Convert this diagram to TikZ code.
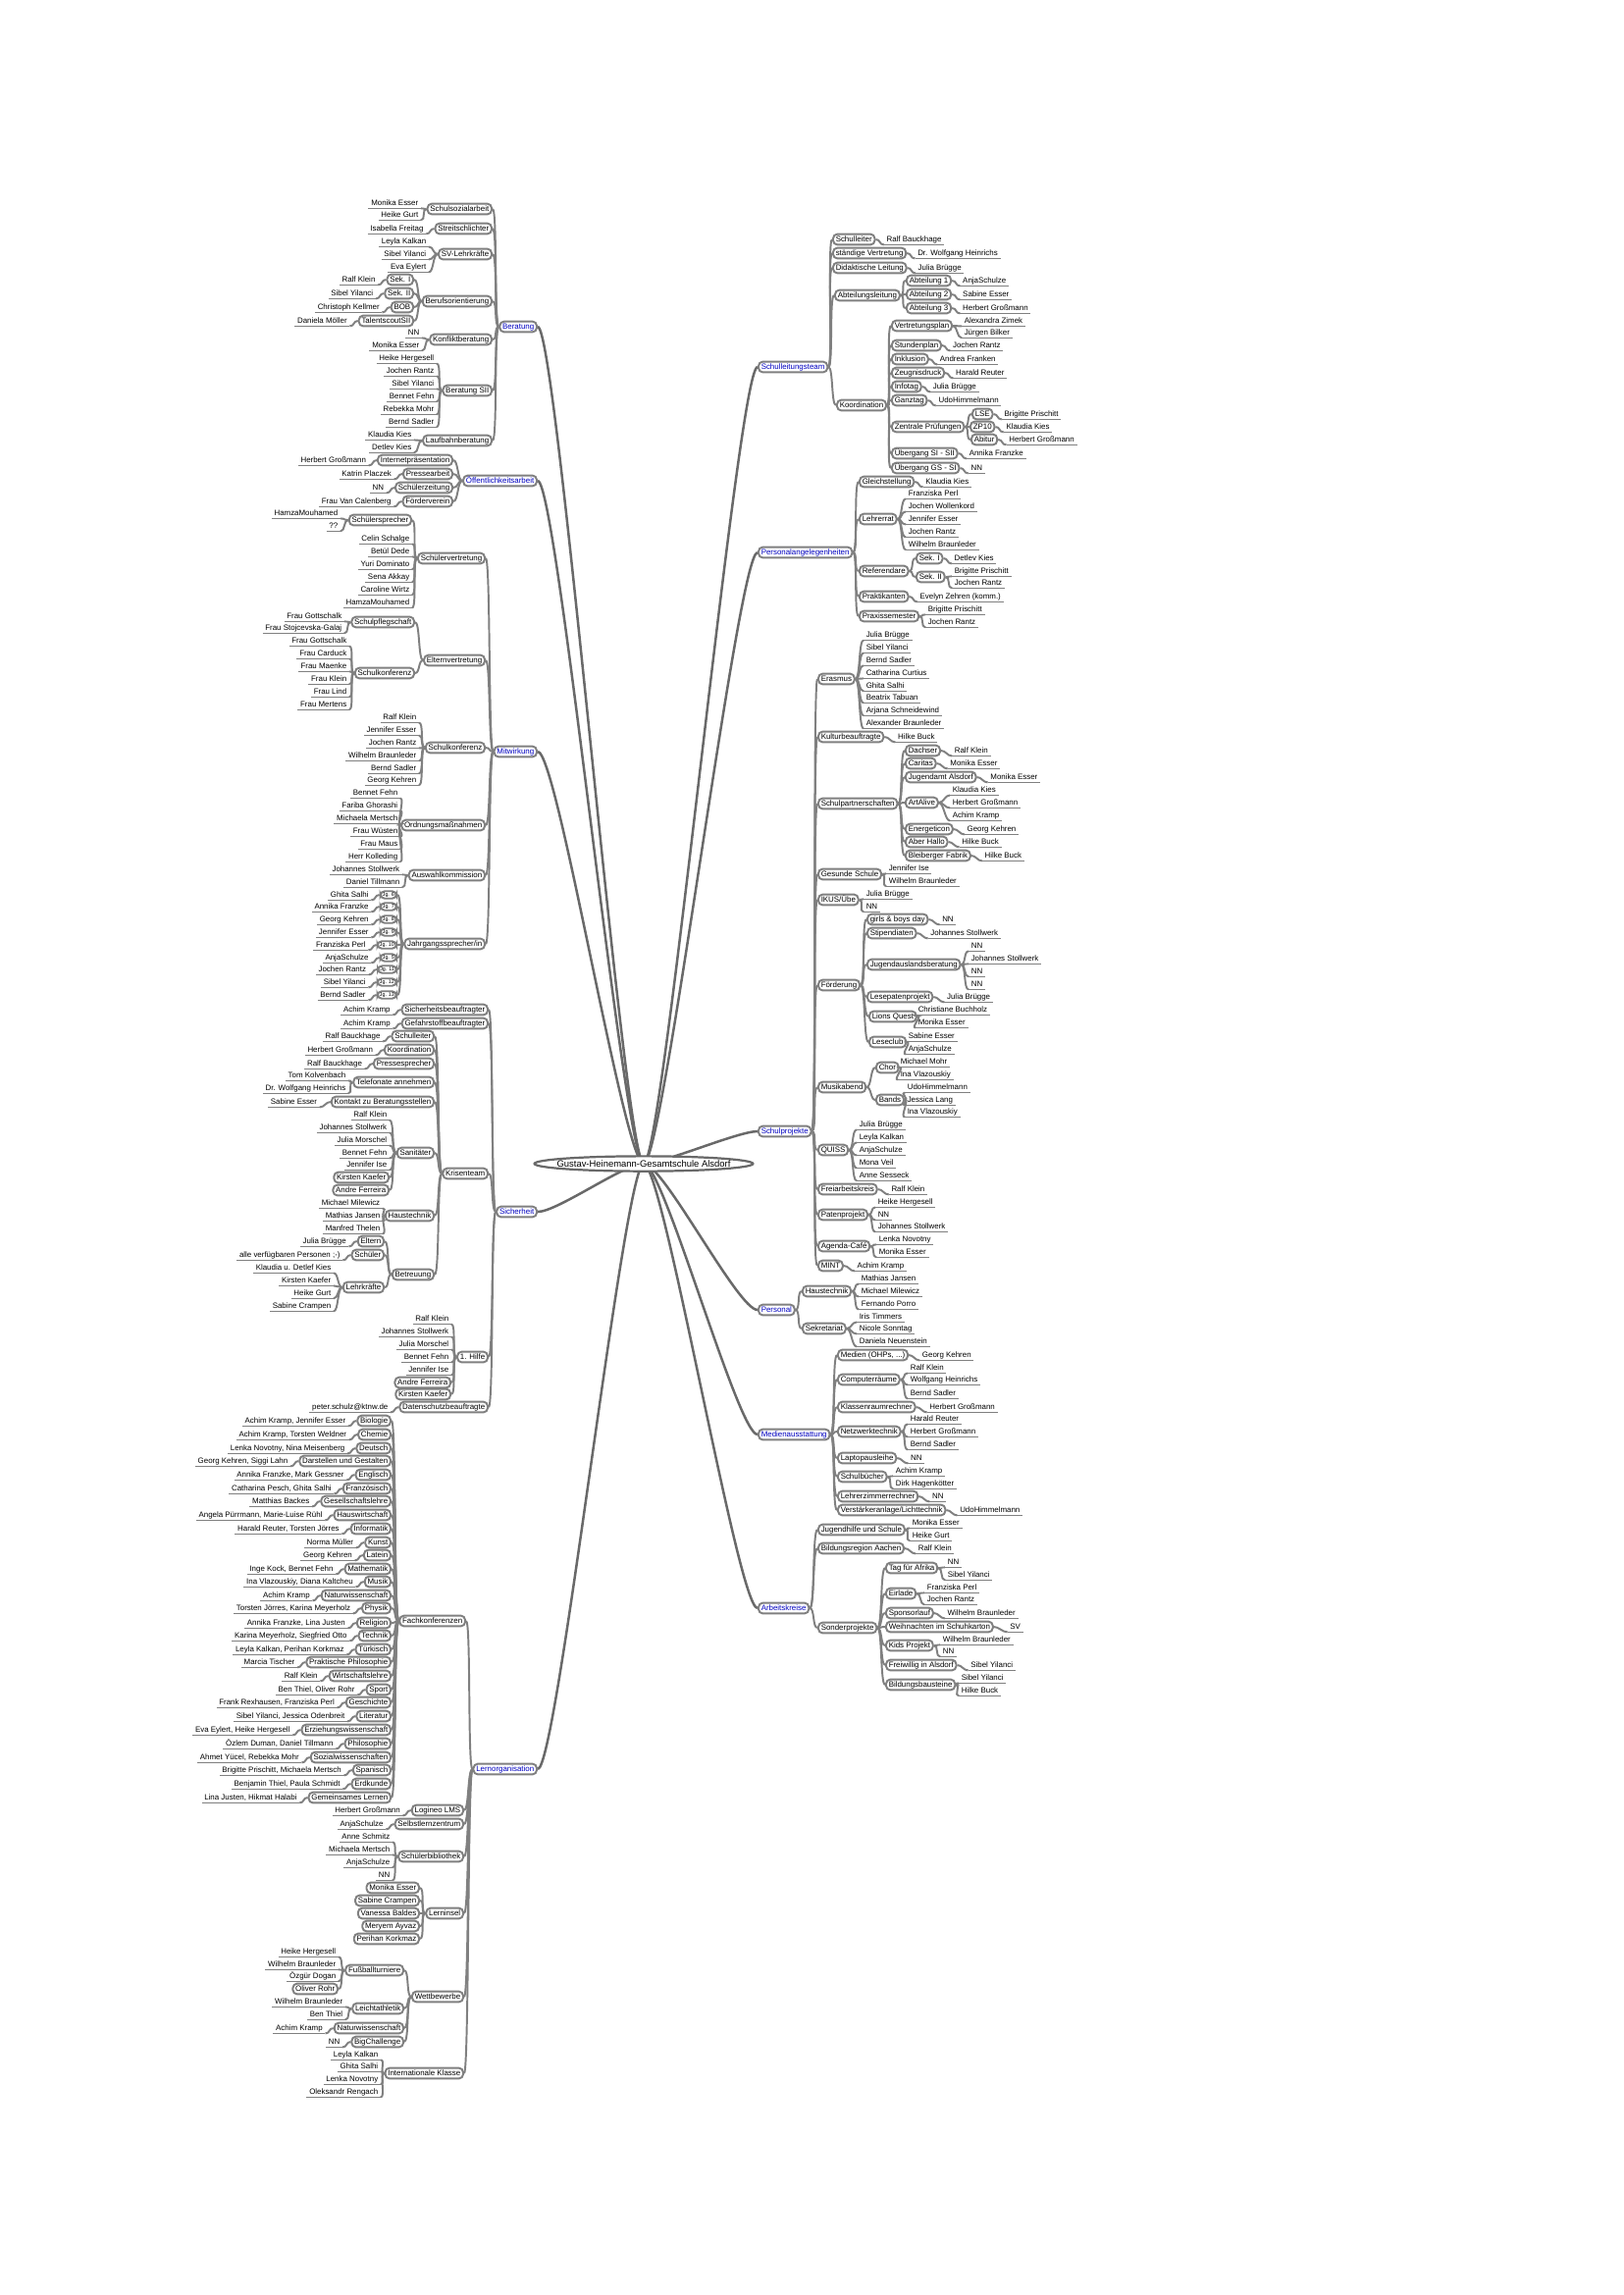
\documentclass[tikz,border=0pt]{standalone}
\usepackage{fontspec}
\setmainfont{Liberation Sans}
\usetikzlibrary{positioning,shapes.geometric,backgrounds}

\definecolor{linegray}{RGB}{128,128,128}
\definecolor{trunkgray}{RGB}{105,105,105}
\definecolor{mainblue}{RGB}{0,0,192}

\tikzset{
  txt/.style={font=\fontsize{2.85}{3.4}\selectfont, text height=2.1pt, text depth=0.6pt},
  leaf/.style={txt, inner xsep=0.8pt, inner ysep=0.4pt,
    append after command={(\tikzlastnode.south west) edge[draw=linegray, line width=0.6pt, to path={-- (\tikztotarget)}] (\tikzlastnode.south east)}},
  box/.style={txt, draw=linegray, line width=0.7pt, rounded corners=1.6pt, fill=white, inner xsep=1pt, inner ysep=0.6pt},
  jgbox/.style={box, font=\fontsize{1.9}{2.2}\selectfont, text height=1.4pt, text depth=0.3pt, inner ysep=0.5pt, inner xsep=0.8pt},
  mainbox/.style={box, text=mainblue},
  rootnode/.style={ellipse, draw=trunkgray, line width=0.8pt, fill=white, font=\fontsize{3.4}{4.1}\selectfont, inner xsep=-3.5pt, inner ysep=0.7pt},
  toleft/.style={to path={.. controls +(-5,0) and +(5,0) .. (\tikztotarget)}},
  toright/.style={to path={.. controls +(5,0) and +(-5,0) .. (\tikztotarget)}},
  mainleft/.style={draw=trunkgray, line width=0.9pt, to path={.. controls +(-20,0) and +(20,0) .. (\tikztotarget)}},
  mainright/.style={draw=trunkgray, line width=0.9pt, to path={.. controls +(20,0) and +(-20,0) .. (\tikztotarget)}}
}

\begin{document}
\begin{tikzpicture}[x=0.36pt, y=-0.36pt]
  \useasboundingbox (0,0) rectangle (1654,2339);

  \node[rootnode] (root) at (656,1186) {Gustav-Heinemann-Gesamtschule Alsdorf};

  \begin{scope}[every node/.append style={anchor=east}, every edge/.style={draw=linegray, line width=0.7pt, toleft}]

    \node[mainbox] (ber) at (548,333) {Beratung};
    \node[box] (ber1) at (502,213) {Schulsozialarbeit};
    \node[leaf] (ber1a) at (429,207) {Monika Esser};
    \node[leaf] (ber1b) at (429,219) {Heike Gurt};
    \node[box] (ber2) at (502,233) {Streitschlichter};
    \node[leaf, left=3pt of ber2] (ber2a) {Isabella Freitag};
    \node[box] (ber3) at (502,259) {SV-Lehrkräfte};
    \node[leaf] (ber3a) at (437,246) {Leyla Kalkan};
    \node[leaf] (ber3b) at (437,259) {Sibel Yilanci};
    \node[leaf] (ber3c) at (437,272) {Eva Eylert};
    \node[box] (ber4) at (502,307) {Berufsorientierung};
    \node[box] (ber4a) at (422,285) {Sek. I};
    \node[box] (ber4b) at (422,299) {Sek. II};
    \node[box] (ber4c) at (422,313) {BOB};
    \node[box] (ber4d) at (422,327) {TalentscoutSII};
    \node[leaf, left=3pt of ber4a] (ber4a1) {Ralf Klein};
    \node[leaf, left=3pt of ber4b] (ber4b1) {Sibel Yilanci};
    \node[leaf, left=3pt of ber4c] (ber4c1) {Christoph Kellmer};
    \node[leaf, left=3pt of ber4d] (ber4d1) {Daniela Möller};
    \node[box] (ber5) at (502,346) {Konfliktberatung};
    \node[leaf] (ber5a) at (430,339) {NN};
    \node[leaf] (ber5b) at (430,352) {Monika Esser};
    \node[box] (ber6) at (502,398) {Beratung SII};
    \node[leaf] (ber6a) at (445,365) {Heike Hergesell};
    \node[leaf] (ber6b) at (445,378) {Jochen Rantz};
    \node[leaf] (ber6c) at (445,391) {Sibel Yilanci};
    \node[leaf] (ber6d) at (445,404) {Bennet Fehn};
    \node[leaf] (ber6e) at (445,417) {Rebekka Mohr};
    \node[leaf] (ber6f) at (445,430) {Bernd Sadler};
    \node[box] (ber7) at (502,449) {Laufbahnberatung};
    \node[leaf] (ber7a) at (422,443) {Klaudia Kies};
    \node[leaf] (ber7b) at (422,456) {Detlev Kies};

    \path (ber.west) edge (ber1.east) edge (ber2.east) edge (ber3.east) edge (ber4.east)
      edge (ber5.east) edge (ber6.east) edge (ber7.east);
    \path (ber1.west) edge (ber1a.south east) edge (ber1b.south east);
    \path (ber2.west) edge (ber2a.south east);
    \path (ber3.west) edge (ber3a.south east) edge (ber3b.south east) edge (ber3c.south east);
    \path (ber4.west) edge (ber4a.east) edge (ber4b.east) edge (ber4c.east) edge (ber4d.east);
    \path (ber4a.west) edge (ber4a1.south east);
    \path (ber4b.west) edge (ber4b1.south east);
    \path (ber4c.west) edge (ber4c1.south east);
    \path (ber4d.west) edge (ber4d1.south east);
    \path (ber5.west) edge (ber5a.south east) edge (ber5b.south east);
    \path (ber6.west) edge (ber6a.south east) edge (ber6b.south east) edge (ber6c.south east)
      edge (ber6d.south east) edge (ber6e.south east) edge (ber6f.south east);
    \path (ber7.west) edge (ber7a.south east) edge (ber7b.south east);

    \node[mainbox] (oef) at (548,490) {Öffentlichkeitsarbeit};
    \node[box] (oef1) at (462,469) {Internetpräsentation};
    \node[box] (oef2) at (462,483) {Pressearbeit};
    \node[box] (oef3) at (462,497) {Schülerzeitung};
    \node[box] (oef4) at (462,511) {Förderverein};
    \node[leaf, left=3pt of oef1] (oef1a) {Herbert Großmann};
    \node[leaf, left=3pt of oef2] (oef2a) {Katrin Placzek};
    \node[leaf, left=3pt of oef3] (oef3a) {NN};
    \node[leaf, left=3pt of oef4] (oef4a) {Frau Van Calenberg};

    \path (oef.west) edge (oef1.east) edge (oef2.east) edge (oef3.east) edge (oef4.east);
    \path (oef1.west) edge (oef1a.south east);
    \path (oef2.west) edge (oef2a.south east);
    \path (oef3.west) edge (oef3a.south east);
    \path (oef4.west) edge (oef4a.south east);

    \node[mainbox] (mit) at (548,766) {Mitwirkung};
    \node[box] (mit1) at (495,569) {Schülervertretung};
    \node[box] (mit1a) at (420,530) {Schülersprecher};
    \node[leaf] (mit1a1) at (347,523) {HamzaMouhamed};
    \node[leaf] (mit1a2) at (347,536) {??};
    \node[leaf] (mit1b) at (420,549) {Celin Schalge};
    \node[leaf] (mit1c) at (420,562) {Betül Dede};
    \node[leaf] (mit1d) at (420,575) {Yuri Dominato};
    \node[leaf] (mit1e) at (420,588) {Sena Akkay};
    \node[leaf] (mit1f) at (420,601) {Caroline Wirtz};
    \node[leaf] (mit1g) at (420,614) {HamzaMouhamed};
    \node[box] (mit2) at (495,673) {Elternvertretung};
    \node[box] (mit2a) at (423,634) {Schulpflegschaft};
    \node[leaf] (mit2a1) at (351,628) {Frau Gottschalk};
    \node[leaf] (mit2a2) at (351,640) {Frau Stojcevska-Galaj};
    \node[box] (mit2b) at (423,686) {Schulkonferenz};
    \node[leaf] (mit2b1) at (356,653) {Frau Gottschalk};
    \node[leaf] (mit2b2) at (356,666) {Frau Carduck};
    \node[leaf] (mit2b3) at (356,679) {Frau Maenke};
    \node[leaf] (mit2b4) at (356,692) {Frau Klein};
    \node[leaf] (mit2b5) at (356,705) {Frau Lind};
    \node[leaf] (mit2b6) at (356,718) {Frau Mertens};
    \node[box] (mit3) at (495,762) {Schulkonferenz};
    \node[leaf] (mit3a) at (427,731) {Ralf Klein};
    \node[leaf] (mit3b) at (427,744) {Jennifer Esser};
    \node[leaf] (mit3c) at (427,757) {Jochen Rantz};
    \node[leaf] (mit3d) at (427,770) {Wilhelm Braunleder};
    \node[leaf] (mit3e) at (427,783) {Bernd Sadler};
    \node[leaf] (mit3f) at (427,795) {Georg Kehren};
    \node[box] (mit4) at (495,841) {Ordnungsmaßnahmen};
    \node[leaf] (mit4a) at (408,808) {Bennet Fehn};
    \node[leaf] (mit4b) at (408,821) {Fariba Ghorashi};
    \node[leaf] (mit4c) at (408,834) {Michaela Mertsch};
    \node[leaf] (mit4d) at (408,847) {Frau Wüsten};
    \node[leaf] (mit4e) at (408,860) {Frau Maus};
    \node[leaf] (mit4f) at (408,873) {Herr Kolleding};
    \node[box] (mit5) at (495,892) {Auswahlkommission};
    \node[leaf] (mit5a) at (410,886) {Johannes Stollwerk};
    \node[leaf] (mit5b) at (410,899) {Daniel Tillmann};
    \node[box] (mit6) at (495,962) {Jahrgangssprecher/in};
    \node[jgbox] (jg6) at (405,912) {Jg. 6};
    \node[jgbox] (jg7) at (405,924) {Jg. 7};
    \node[jgbox] (jg8) at (405,937) {Jg. 8};
    \node[jgbox] (jg9) at (405,950) {Jg. 9};
    \node[jgbox] (jg10) at (405,963) {Jg. 10};
    \node[jgbox] (jg5) at (405,976) {Jg. 5};
    \node[jgbox] (jg11) at (405,988) {Jg. 11};
    \node[jgbox] (jg12) at (405,1001) {Jg. 12};
    \node[jgbox] (jg13) at (405,1014) {Jg. 13};
    \node[leaf, left=3pt of jg6] (jg6a) {Ghita Salhi};
    \node[leaf, left=3pt of jg7] (jg7a) {Annika Franzke};
    \node[leaf, left=3pt of jg8] (jg8a) {Georg Kehren};
    \node[leaf, left=3pt of jg9] (jg9a) {Jennifer Esser};
    \node[leaf, left=3pt of jg10] (jg10a) {Franziska Perl};
    \node[leaf, left=3pt of jg5] (jg5a) {AnjaSchulze};
    \node[leaf, left=3pt of jg11] (jg11a) {Jochen Rantz};
    \node[leaf, left=3pt of jg12] (jg12a) {Sibel Yilanci};
    \node[leaf, left=3pt of jg13] (jg13a) {Bernd Sadler};

    \path (mit.west) edge (mit1.east) edge (mit2.east) edge (mit3.east) edge (mit4.east)
      edge (mit5.east) edge (mit6.east);
    \path (mit1.west) edge (mit1a.east) edge (mit1b.south east) edge (mit1c.south east)
      edge (mit1d.south east) edge (mit1e.south east) edge (mit1f.south east) edge (mit1g.south east);
    \path (mit1a.west) edge (mit1a1.south east) edge (mit1a2.south east);
    \path (mit2.west) edge (mit2a.east) edge (mit2b.east);
    \path (mit2a.west) edge (mit2a1.south east) edge (mit2a2.south east);
    \path (mit2b.west) edge (mit2b1.south east) edge (mit2b2.south east) edge (mit2b3.south east)
      edge (mit2b4.south east) edge (mit2b5.south east) edge (mit2b6.south east);
    \path (mit3.west) edge (mit3a.south east) edge (mit3b.south east) edge (mit3c.south east)
      edge (mit3d.south east) edge (mit3e.south east) edge (mit3f.south east);
    \path (mit4.west) edge (mit4a.south east) edge (mit4b.south east) edge (mit4c.south east)
      edge (mit4d.south east) edge (mit4e.south east) edge (mit4f.south east);
    \path (mit5.west) edge (mit5a.south east) edge (mit5b.south east);
    \path (mit6.west) edge (jg6.east) edge (jg7.east) edge (jg8.east) edge (jg9.east) edge (jg10.east)
      edge (jg5.east) edge (jg11.east) edge (jg12.east) edge (jg13.east);
    \path (jg6.west) edge (jg6a.south east);
    \path (jg7.west) edge (jg7a.south east);
    \path (jg8.west) edge (jg8a.south east);
    \path (jg9.west) edge (jg9a.south east);
    \path (jg10.west) edge (jg10a.south east);
    \path (jg5.west) edge (jg5a.south east);
    \path (jg11.west) edge (jg11a.south east);
    \path (jg12.west) edge (jg12a.south east);
    \path (jg13.west) edge (jg13a.south east);

    \node[mainbox] (sic) at (548,1235) {Sicherheit};
    \node[box] (sic1) at (498,1029) {Sicherheitsbeauftragter};
    \node[leaf, left=3pt of sic1] (sic1a) {Achim Kramp};
    \node[box] (sic2) at (498,1043) {Gefahrstoffbeauftragter};
    \node[leaf, left=3pt of sic2] (sic2a) {Achim Kramp};
    \node[box] (sic3) at (498,1196) {Krisenteam};
    \node[box] (sic3a) at (443,1056) {Schulleiter};
    \node[box] (sic3b) at (443,1070) {Koordination};
    \node[box] (sic3c) at (443,1084) {Pressesprecher};
    \node[box] (sic3d) at (443,1103) {Telefonate annehmen};
    \node[box] (sic3e) at (443,1123) {Kontakt zu Beratungsstellen};
    \node[leaf, left=3pt of sic3a] (sic3a1) {Ralf Bauckhage};
    \node[leaf, left=3pt of sic3b] (sic3b1) {Herbert Großmann};
    \node[leaf, left=3pt of sic3c] (sic3c1) {Ralf Bauckhage};
    \node[leaf] (sic3d1) at (355,1096) {Tom Kolvenbach};
    \node[leaf] (sic3d2) at (355,1109) {Dr. Wolfgang Heinrichs};
    \node[leaf, left=4pt of sic3e] (sic3e1) {Sabine Esser};
    \node[box] (sic3f) at (443,1175) {Sanitäter};
    \node[leaf] (sic3f1) at (397,1136) {Ralf Klein};
    \node[leaf] (sic3f2) at (397,1149) {Johannes Stollwerk};
    \node[leaf] (sic3f3) at (397,1162) {Julia Morschel};
    \node[leaf] (sic3f4) at (397,1175) {Bennet Fehn};
    \node[leaf] (sic3f5) at (397,1187) {Jennifer Ise};
    \node[box] (sic3f6) at (397,1200) {Kirsten Kaefer};
    \node[box] (sic3f7) at (397,1213) {Andre Ferreira};
    \node[box] (sic3g) at (443,1239) {Haustechnik};
    \node[leaf] (sic3g1) at (390,1226) {Michael Milewicz};
    \node[leaf] (sic3g2) at (390,1239) {Mathias Jansen};
    \node[leaf] (sic3g3) at (390,1252) {Manfred Thelen};
    \node[box] (sic3h) at (443,1299) {Betreuung};
    \node[box] (sic3h1) at (392,1265) {Eltern};
    \node[box] (sic3h2) at (392,1279) {Schüler};
    \node[box] (sic3h3) at (392,1312) {Lehrkräfte};
    \node[leaf, left=3pt of sic3h1] (sic3h1a) {Julia Brügge};
    \node[leaf, left=3pt of sic3h2] (sic3h2a) {alle verfügbaren Personen ;-)};
    \node[leaf] (sic3h3a) at (340,1292) {Klaudia u. Detlef Kies};
    \node[leaf] (sic3h3b) at (340,1305) {Kirsten Kaefer};
    \node[leaf] (sic3h3c) at (340,1318) {Heike Gurt};
    \node[leaf] (sic3h3d) at (340,1331) {Sabine Crampen};
    \node[box] (sic4) at (498,1383) {1. Hilfe};
    \node[leaf] (sic4a) at (460,1344) {Ralf Klein};
    \node[leaf] (sic4b) at (460,1357) {Johannes Stollwerk};
    \node[leaf] (sic4c) at (460,1370) {Julia Morschel};
    \node[leaf] (sic4d) at (460,1383) {Bennet Fehn};
    \node[leaf] (sic4e) at (460,1396) {Jennifer Ise};
    \node[box] (sic4f) at (460,1409) {Andre Ferreira};
    \node[box] (sic4g) at (460,1421) {Kirsten Kaefer};
    \node[box] (sic5) at (498,1434) {Datenschutzbeauftragte};
    \node[leaf, left=3pt of sic5] (sic5a) {peter.schulz@ktnw.de};

    \path (sic.west) edge (sic1.east) edge (sic2.east) edge (sic3.east) edge (sic4.east) edge (sic5.east);
    \path (sic1.west) edge (sic1a.south east);
    \path (sic2.west) edge (sic2a.south east);
    \path (sic3.west) edge (sic3a.east) edge (sic3b.east) edge (sic3c.east) edge (sic3d.east)
      edge (sic3e.east) edge (sic3f.east) edge (sic3g.east) edge (sic3h.east);
    \path (sic3a.west) edge (sic3a1.south east);
    \path (sic3b.west) edge (sic3b1.south east);
    \path (sic3c.west) edge (sic3c1.south east);
    \path (sic3d.west) edge (sic3d1.south east) edge (sic3d2.south east);
    \path (sic3e.west) edge (sic3e1.south east);
    \path (sic3f.west) edge (sic3f1.south east) edge (sic3f2.south east) edge (sic3f3.south east)
      edge (sic3f4.south east) edge (sic3f5.south east) edge (sic3f6.east) edge (sic3f7.east);
    \path (sic3g.west) edge (sic3g1.south east) edge (sic3g2.south east) edge (sic3g3.south east);
    \path (sic3h.west) edge (sic3h1.east) edge (sic3h2.east) edge (sic3h3.east);
    \path (sic3h1.west) edge (sic3h1a.south east);
    \path (sic3h2.west) edge (sic3h2a.south east);
    \path (sic3h3.west) edge (sic3h3a.south east) edge (sic3h3b.south east) edge (sic3h3c.south east)
      edge (sic3h3d.south east);
    \path (sic4.west) edge (sic4a.south east) edge (sic4b.south east) edge (sic4c.south east)
      edge (sic4d.south east) edge (sic4e.south east) edge (sic4f.east) edge (sic4g.east);
    \path (sic5.west) edge (sic5a.south east);

    \node[mainbox] (ler) at (548,1803) {Lernorganisation};
    \node[box] (ler1) at (475,1652) {Fachkonferenzen};
    \node[box] (fk1) at (399,1448) {Biologie};
    \node[box] (fk2) at (399,1462) {Chemie};
    \node[box] (fk3) at (399,1476) {Deutsch};
    \node[box] (fk4) at (399,1489) {Darstellen und Gestalten};
    \node[box] (fk5) at (399,1503) {Englisch};
    \node[box] (fk6) at (399,1517) {Französisch};
    \node[box] (fk7) at (399,1530) {Gesellschaftslehre};
    \node[box] (fk8) at (399,1544) {Hauswirtschaft};
    \node[box] (fk9) at (399,1558) {Informatik};
    \node[box] (fk10) at (399,1572) {Kunst};
    \node[box] (fk11) at (399,1585) {Latein};
    \node[box] (fk12) at (399,1599) {Mathematik};
    \node[box] (fk13) at (399,1612) {Musik};
    \node[box] (fk14) at (399,1626) {Naturwissenschaft};
    \node[box] (fk15) at (399,1639) {Physik};
    \node[box] (fk16) at (399,1654) {Religion};
    \node[box] (fk17) at (399,1667) {Technik};
    \node[box] (fk18) at (399,1681) {Türkisch};
    \node[box] (fk19) at (399,1694) {Praktische Philosophie};
    \node[box] (fk20) at (399,1708) {Wirtschaftslehre};
    \node[box] (fk21) at (399,1722) {Sport};
    \node[box] (fk22) at (399,1735) {Geschichte};
    \node[box] (fk23) at (399,1749) {Literatur};
    \node[box] (fk24) at (399,1763) {Erziehungswissenschaft};
    \node[box] (fk25) at (399,1777) {Philosophie};
    \node[box] (fk26) at (399,1791) {Sozialwissenschaften};
    \node[box] (fk27) at (399,1804) {Spanisch};
    \node[box] (fk28) at (399,1818) {Erdkunde};
    \node[box] (fk29) at (399,1832) {Gemeinsames Lernen};
    \node[leaf, left=3pt of fk1] (fk1a) {Achim Kramp, Jennifer Esser};
    \node[leaf, left=3pt of fk2] (fk2a) {Achim Kramp, Torsten Weldner};
    \node[leaf, left=3pt of fk3] (fk3a) {Lenka Novotny, Nina Meisenberg};
    \node[leaf, left=3pt of fk4] (fk4a) {Georg Kehren, Siggi Lahn};
    \node[leaf, left=3pt of fk5] (fk5a) {Annika Franzke, Mark Gessner};
    \node[leaf, left=3pt of fk6] (fk6a) {Catharina Pesch, Ghita Salhi};
    \node[leaf, left=3pt of fk7] (fk7a) {Matthias Backes};
    \node[leaf, left=3pt of fk8] (fk8a) {Angela Pürrmann, Marie-Luise Rühl};
    \node[leaf, left=3pt of fk9] (fk9a) {Harald Reuter, Torsten Jörres};
    \node[leaf, left=3pt of fk10] (fk10a) {Norma Müller};
    \node[leaf, left=3pt of fk11] (fk11a) {Georg Kehren};
    \node[leaf, left=3pt of fk12] (fk12a) {Inge Kock, Bennet Fehn};
    \node[leaf, left=3pt of fk13] (fk13a) {Ina Vlazouskiy, Diana Kaltcheu};
    \node[leaf, left=3pt of fk14] (fk14a) {Achim Kramp};
    \node[leaf, left=3pt of fk15] (fk15a) {Torsten Jörres, Karina Meyerholz};
    \node[leaf, left=3pt of fk16] (fk16a) {Annika Franzke, Lina Justen};
    \node[leaf, left=3pt of fk17] (fk17a) {Karina Meyerholz, Siegfried Otto};
    \node[leaf, left=3pt of fk18] (fk18a) {Leyla Kalkan, Perihan Korkmaz};
    \node[leaf, left=3pt of fk19] (fk19a) {Marcia Tischer};
    \node[leaf, left=3pt of fk20] (fk20a) {Ralf Klein};
    \node[leaf, left=3pt of fk21] (fk21a) {Ben Thiel, Oliver Rohr};
    \node[leaf, left=3pt of fk22] (fk22a) {Frank Rexhausen, Franziska Perl};
    \node[leaf, left=3pt of fk23] (fk23a) {Sibel Yilanci, Jessica Odenbreit};
    \node[leaf, left=3pt of fk24] (fk24a) {Eva Eylert, Heike Hergesell};
    \node[leaf, left=3pt of fk25] (fk25a) {Özlem Duman, Daniel Tillmann};
    \node[leaf, left=3pt of fk26] (fk26a) {Ahmet Yücel, Rebekka Mohr};
    \node[leaf, left=3pt of fk27] (fk27a) {Brigitte Prischitt, Michaela Mertsch};
    \node[leaf, left=3pt of fk28] (fk28a) {Benjamin Thiel, Paula Schmidt};
    \node[leaf, left=3pt of fk29] (fk29a) {Lina Justen, Hikmat Halabi};
    \node[box] (ler2) at (473,1845) {Logineo LMS};
    \node[leaf, left=3pt of ler2] (ler2a) {Herbert Großmann};
    \node[box] (ler3) at (473,1859) {Selbstlernzentrum};
    \node[leaf, left=3pt of ler3] (ler3a) {AnjaSchulze};
    \node[box] (ler4) at (473,1892) {Schülerbibliothek};
    \node[leaf] (ler4a) at (400,1872) {Anne Schmitz};
    \node[leaf] (ler4b) at (400,1885) {Michaela Mertsch};
    \node[leaf] (ler4c) at (400,1898) {AnjaSchulze};
    \node[leaf] (ler4d) at (400,1911) {NN};
    \node[box] (ler5) at (473,1950) {Lerninsel};
    \node[box] (ler5a) at (428,1924) {Monika Esser};
    \node[box] (ler5b) at (428,1937) {Sabine Crampen};
    \node[box] (ler5c) at (428,1950) {Vanessa Baldes};
    \node[box] (ler5d) at (428,1963) {Meryem Ayvaz};
    \node[box] (ler5e) at (428,1976) {Perihan Korkmaz};
    \node[box] (ler6) at (473,2035) {Wettbewerbe};
    \node[box] (ler6a) at (412,2008) {Fußballturniere};
    \node[leaf] (ler6a1) at (345,1989) {Heike Hergesell};
    \node[leaf] (ler6a2) at (345,2002) {Wilhelm Braunleder};
    \node[leaf] (ler6a3) at (345,2014) {Özgür Dogan};
    \node[box] (ler6a4) at (345,2027) {Oliver Rohr};
    \node[box] (ler6b) at (412,2047) {Leichtathletik};
    \node[leaf] (ler6b1) at (352,2040) {Wilhelm Braunleder};
    \node[leaf] (ler6b2) at (352,2053) {Ben Thiel};
    \node[box] (ler6c) at (412,2067) {Naturwissenschaft};
    \node[leaf, left=3pt of ler6c] (ler6c1) {Achim Kramp};
    \node[box] (ler6d) at (412,2081) {BigChallenge};
    \node[leaf, left=3pt of ler6d] (ler6d1) {NN};
    \node[box] (ler7) at (473,2113) {Internationale Klasse};
    \node[leaf] (ler7a) at (388,2094) {Leyla Kalkan};
    \node[leaf] (ler7b) at (388,2106) {Ghita Salhi};
    \node[leaf] (ler7c) at (388,2119) {Lenka Novotny};
    \node[leaf] (ler7d) at (388,2132) {Oleksandr Rengach};

    \path (ler.west) edge (ler1.east) edge (ler2.east) edge (ler3.east) edge (ler4.east)
      edge (ler5.east) edge (ler6.east) edge (ler7.east);
    \path (ler1.west) edge (fk1.east) edge (fk2.east) edge (fk3.east) edge (fk4.east) edge (fk5.east)
      edge (fk6.east) edge (fk7.east) edge (fk8.east) edge (fk9.east) edge (fk10.east)
      edge (fk11.east) edge (fk12.east) edge (fk13.east) edge (fk14.east) edge (fk15.east)
      edge (fk16.east) edge (fk17.east) edge (fk18.east) edge (fk19.east) edge (fk20.east)
      edge (fk21.east) edge (fk22.east) edge (fk23.east) edge (fk24.east) edge (fk25.east)
      edge (fk26.east) edge (fk27.east) edge (fk28.east) edge (fk29.east);
    \path (fk1.west) edge (fk1a.south east);
    \path (fk2.west) edge (fk2a.south east);
    \path (fk3.west) edge (fk3a.south east);
    \path (fk4.west) edge (fk4a.south east);
    \path (fk5.west) edge (fk5a.south east);
    \path (fk6.west) edge (fk6a.south east);
    \path (fk7.west) edge (fk7a.south east);
    \path (fk8.west) edge (fk8a.south east);
    \path (fk9.west) edge (fk9a.south east);
    \path (fk10.west) edge (fk10a.south east);
    \path (fk11.west) edge (fk11a.south east);
    \path (fk12.west) edge (fk12a.south east);
    \path (fk13.west) edge (fk13a.south east);
    \path (fk14.west) edge (fk14a.south east);
    \path (fk15.west) edge (fk15a.south east);
    \path (fk16.west) edge (fk16a.south east);
    \path (fk17.west) edge (fk17a.south east);
    \path (fk18.west) edge (fk18a.south east);
    \path (fk19.west) edge (fk19a.south east);
    \path (fk20.west) edge (fk20a.south east);
    \path (fk21.west) edge (fk21a.south east);
    \path (fk22.west) edge (fk22a.south east);
    \path (fk23.west) edge (fk23a.south east);
    \path (fk24.west) edge (fk24a.south east);
    \path (fk25.west) edge (fk25a.south east);
    \path (fk26.west) edge (fk26a.south east);
    \path (fk27.west) edge (fk27a.south east);
    \path (fk28.west) edge (fk28a.south east);
    \path (fk29.west) edge (fk29a.south east);
    \path (ler2.west) edge (ler2a.south east);
    \path (ler3.west) edge (ler3a.south east);
    \path (ler4.west) edge (ler4a.south east) edge (ler4b.south east) edge (ler4c.south east) edge (ler4d.south east);
    \path (ler5.west) edge (ler5a.east) edge (ler5b.east) edge (ler5c.east) edge (ler5d.east) edge (ler5e.east);
    \path (ler6.west) edge (ler6a.east) edge (ler6b.east) edge (ler6c.east) edge (ler6d.east);
    \path (ler6a.west) edge (ler6a1.south east) edge (ler6a2.south east) edge (ler6a3.south east) edge (ler6a4.east);
    \path (ler6b.west) edge (ler6b1.south east) edge (ler6b2.south east);
    \path (ler6c.west) edge (ler6c1.south east);
    \path (ler6d.west) edge (ler6d1.south east);
    \path (ler7.west) edge (ler7a.south east) edge (ler7b.south east) edge (ler7c.south east) edge (ler7d.south east);
  \end{scope}

  \begin{scope}[every node/.append style={anchor=west}, every edge/.style={draw=linegray, line width=0.7pt, toright}]

    \node[mainbox] (slt) at (772,374) {Schulleitungsteam};
    \node[box] (slt1) at (848,244) {Schulleiter};
    \node[box] (slt2) at (848,258) {ständige Vertretung};
    \node[box] (slt3) at (848,273) {Didaktische Leitung};
    \node[leaf, right=3pt of slt1] (slt1a) {Ralf Bauckhage};
    \node[leaf, right=3pt of slt2] (slt2a) {Dr. Wolfgang Heinrichs};
    \node[leaf, right=3pt of slt3] (slt3a) {Julia Brügge};
    \node[box] (slt4) at (850,301) {Abteilungsleitung};
    \node[box] (slt4a) at (923,286) {Abteilung 1};
    \node[box] (slt4b) at (923,300) {Abteilung 2};
    \node[box] (slt4c) at (923,314) {Abteilung 3};
    \node[leaf, right=3pt of slt4a] (slt4a1) {AnjaSchulze};
    \node[leaf, right=3pt of slt4b] (slt4b1) {Sabine Esser};
    \node[leaf, right=3pt of slt4c] (slt4c1) {Herbert Großmann};
    \node[box] (slt5) at (852,413) {Koordination};
    \node[box] (slt5a) at (908,332) {Vertretungsplan};
    \node[leaf] (slt5a1) at (980,327) {Alexandra Zimek};
    \node[leaf] (slt5a2) at (980,339) {Jürgen Bilker};
    \node[box] (slt5b) at (908,352) {Stundenplan};
    \node[box] (slt5c) at (908,366) {Inklusion};
    \node[box] (slt5d) at (908,380) {Zeugnisdruck};
    \node[box] (slt5e) at (908,394) {Infotag};
    \node[box] (slt5f) at (908,408) {Ganztag};
    \node[leaf, right=3pt of slt5b] (slt5b1) {Jochen Rantz};
    \node[leaf, right=3pt of slt5c] (slt5c1) {Andrea Franken};
    \node[leaf, right=3pt of slt5d] (slt5d1) {Harald Reuter};
    \node[leaf, right=3pt of slt5e] (slt5e1) {Julia Brügge};
    \node[leaf, right=3pt of slt5f] (slt5f1) {UdoHimmelmann};
    \node[box] (slt5g) at (908,435) {Zentrale Prüfungen};
    \node[box] (slt5g1) at (990,422) {LSE};
    \node[box] (slt5g2) at (988,435) {ZP10};
    \node[box] (slt5g3) at (989,448) {Abitur};
    \node[leaf, right=3pt of slt5g1] (slt5g1a) {Brigitte Prischitt};
    \node[leaf, right=3pt of slt5g2] (slt5g2a) {Klaudia Kies};
    \node[leaf, right=3pt of slt5g3] (slt5g3a) {Herbert Großmann};
    \node[box] (slt5h) at (908,462) {Übergang SI - SII};
    \node[box] (slt5i) at (908,477) {Übergang GS - SI};
    \node[leaf, right=3pt of slt5h] (slt5h1) {Annika Franzke};
    \node[leaf, right=3pt of slt5i] (slt5i1) {NN};

    \path (slt.east) edge (slt1.west) edge (slt2.west) edge (slt3.west) edge (slt4.west) edge (slt5.west);
    \path (slt1.east) edge (slt1a.south west);
    \path (slt2.east) edge (slt2a.south west);
    \path (slt3.east) edge (slt3a.south west);
    \path (slt4.east) edge (slt4a.west) edge (slt4b.west) edge (slt4c.west);
    \path (slt4a.east) edge (slt4a1.south west);
    \path (slt4b.east) edge (slt4b1.south west);
    \path (slt4c.east) edge (slt4c1.south west);
    \path (slt5.east) edge (slt5a.west) edge (slt5b.west) edge (slt5c.west) edge (slt5d.west) edge (slt5e.west)
      edge (slt5f.west) edge (slt5g.west) edge (slt5h.west) edge (slt5i.west);
    \path (slt5a.east) edge (slt5a1.south west) edge (slt5a2.south west);
    \path (slt5b.east) edge (slt5b1.south west);
    \path (slt5c.east) edge (slt5c1.south west);
    \path (slt5d.east) edge (slt5d1.south west);
    \path (slt5e.east) edge (slt5e1.south west);
    \path (slt5f.east) edge (slt5f1.south west);
    \path (slt5g.east) edge (slt5g1.west) edge (slt5g2.west) edge (slt5g3.west);
    \path (slt5g1.east) edge (slt5g1a.south west);
    \path (slt5g2.east) edge (slt5g2a.south west);
    \path (slt5g3.east) edge (slt5g3a.south west);
    \path (slt5h.east) edge (slt5h1.south west);
    \path (slt5i.east) edge (slt5i1.south west);

    \node[mainbox] (pa) at (772,563) {Personalangelegenheiten};
    \node[box] (pa1) at (875,491) {Gleichstellung};
    \node[leaf, right=3pt of pa1] (pa1a) {Klaudia Kies};
    \node[box] (pa2) at (875,529) {Lehrerrat};
    \node[leaf] (pa2a) at (923,503) {Franziska Perl};
    \node[leaf] (pa2b) at (923,516) {Jochen Wollenkord};
    \node[leaf] (pa2c) at (923,529) {Jennifer Esser};
    \node[leaf] (pa2d) at (923,542) {Jochen Rantz};
    \node[leaf] (pa2e) at (923,555) {Wilhelm Braunleder};
    \node[box] (pa3) at (875,582) {Referendare};
    \node[box] (pa3a) at (933,569) {Sek. I};
    \node[leaf, right=3pt of pa3a] (pa3a1) {Detlev Kies};
    \node[box] (pa3b) at (933,588) {Sek. II};
    \node[leaf] (pa3b1) at (970,582) {Brigitte Prischitt};
    \node[leaf] (pa3b2) at (970,594) {Jochen Rantz};
    \node[box] (pa4) at (875,608) {Praktikanten};
    \node[leaf, right=3pt of pa4] (pa4a) {Evelyn Zehren (komm.)};
    \node[box] (pa5) at (875,628) {Praxissemester};
    \node[leaf] (pa5a) at (943,621) {Brigitte Prischitt};
    \node[leaf] (pa5b) at (943,634) {Jochen Rantz};

    \path (pa.east) edge (pa1.west) edge (pa2.west) edge (pa3.west) edge (pa4.west) edge (pa5.west);
    \path (pa1.east) edge (pa1a.south west);
    \path (pa2.east) edge (pa2a.south west) edge (pa2b.south west) edge (pa2c.south west)
      edge (pa2d.south west) edge (pa2e.south west);
    \path (pa3.east) edge (pa3a.west) edge (pa3b.west);
    \path (pa3a.east) edge (pa3a1.south west);
    \path (pa3b.east) edge (pa3b1.south west) edge (pa3b2.south west);
    \path (pa4.east) edge (pa4a.south west);
    \path (pa5.east) edge (pa5a.south west) edge (pa5b.south west);

    \node[mainbox] (spr) at (772,1153) {Schulprojekte};
    \node[box] (spr1) at (833,692) {Erasmus};
    \node[leaf] (spr1a) at (880,647) {Julia Brügge};
    \node[leaf] (spr1b) at (880,660) {Sibel Yilanci};
    \node[leaf] (spr1c) at (880,673) {Bernd Sadler};
    \node[leaf] (spr1d) at (880,686) {Catharina Curtius};
    \node[leaf] (spr1e) at (880,699) {Ghita Salhi};
    \node[leaf] (spr1f) at (880,711) {Beatrix Tabuan};
    \node[leaf] (spr1g) at (880,724) {Arjana Schneidewind};
    \node[leaf] (spr1h) at (880,737) {Alexander Braunleder};
    \node[box] (spr2) at (833,751) {Kulturbeauftragte};
    \node[leaf, right=4pt of spr2] (spr2a) {Hilke Buck};
    \node[box] (spr3) at (833,819) {Schulpartnerschaften};
    \node[box] (spr3a) at (922,765) {Dachser};
    \node[box] (spr3b) at (922,778) {Caritas};
    \node[box] (spr3c) at (922,792) {Jugendamt Alsdorf};
    \node[leaf, right=4pt of spr3a] (spr3a1) {Ralf Klein};
    \node[leaf, right=4pt of spr3b] (spr3b1) {Monika Esser};
    \node[leaf, right=4pt of spr3c] (spr3c1) {Monika Esser};
    \node[box] (spr3d) at (922,818) {ArtAlive};
    \node[leaf] (spr3d1) at (968,805) {Klaudia Kies};
    \node[leaf] (spr3d2) at (968,818) {Herbert Großmann};
    \node[leaf] (spr3d3) at (968,831) {Achim Kramp};
    \node[box] (spr3e) at (922,845) {Energeticon};
    \node[box] (spr3f) at (922,858) {Aber Hallo};
    \node[box] (spr3g) at (922,872) {Bleiberger Fabrik};
    \node[leaf, right=4pt of spr3e] (spr3e1) {Georg Kehren};
    \node[leaf, right=4pt of spr3f] (spr3f1) {Hilke Buck};
    \node[leaf, right=4pt of spr3g] (spr3g1) {Hilke Buck};
    \node[box] (spr4) at (833,891) {Gesunde Schule};
    \node[leaf] (spr4a) at (903,885) {Jennifer Ise};
    \node[leaf] (spr4b) at (903,898) {Wilhelm Braunleder};
    \node[box] (spr5) at (833,917) {IKUS/Übe};
    \node[leaf] (spr5a) at (880,911) {Julia Brügge};
    \node[leaf] (spr5b) at (880,924) {NN};
    \node[box] (spr6) at (833,1004) {Förderung};
    \node[box] (spr6a) at (883,937) {girls \& boys day};
    \node[box] (spr6b) at (883,951) {Stipendiaten};
    \node[leaf, right=4pt of spr6a] (spr6a1) {NN};
    \node[leaf, right=4pt of spr6b] (spr6b1) {Johannes Stollwerk};
    \node[box] (spr6c) at (883,983) {Jugendauslandsberatung};
    \node[leaf] (spr6c1) at (987,964) {NN};
    \node[leaf] (spr6c2) at (987,977) {Johannes Stollwerk};
    \node[leaf] (spr6c3) at (987,990) {NN};
    \node[leaf] (spr6c4) at (987,1003) {NN};
    \node[box] (spr6d) at (883,1016) {Lesepatenprojekt};
    \node[leaf, right=4pt of spr6d] (spr6d1) {Julia Brügge};
    \node[box] (spr6e) at (885,1036) {Lions Quest};
    \node[leaf] (spr6e1) at (933,1029) {Christiane Buchholz};
    \node[leaf] (spr6e2) at (933,1042) {Monika Esser};
    \node[box] (spr6f) at (885,1062) {Leseclub};
    \node[leaf] (spr6f1) at (923,1056) {Sabine Esser};
    \node[leaf] (spr6f2) at (923,1069) {AnjaSchulze};
    \node[box] (spr7) at (833,1108) {Musikabend};
    \node[box] (spr7a) at (892,1088) {Chor};
    \node[leaf] (spr7a1) at (915,1082) {Michael Mohr};
    \node[leaf] (spr7a2) at (915,1095) {Ina Vlazouskiy};
    \node[box] (spr7b) at (892,1121) {Bands};
    \node[leaf] (spr7b1) at (922,1108) {UdoHimmelmann};
    \node[leaf] (spr7b2) at (922,1121) {Jessica Lang};
    \node[leaf] (spr7b3) at (922,1133) {Ina Vlazouskiy};
    \node[box] (spr8) at (833,1172) {QUISS};
    \node[leaf] (spr8a) at (873,1146) {Julia Brügge};
    \node[leaf] (spr8b) at (873,1159) {Leyla Kalkan};
    \node[leaf] (spr8c) at (873,1172) {AnjaSchulze};
    \node[leaf] (spr8d) at (873,1185) {Mona Veil};
    \node[leaf] (spr8e) at (873,1198) {Anne Sesseck};
    \node[box] (spr9) at (833,1212) {Freiarbeitskreis};
    \node[leaf, right=4pt of spr9] (spr9a) {Ralf Klein};
    \node[box] (spr10) at (833,1238) {Patenprojekt};
    \node[leaf] (spr10a) at (892,1225) {Heike Hergesell};
    \node[leaf] (spr10b) at (892,1238) {NN};
    \node[leaf] (spr10c) at (892,1250) {Johannes Stollwerk};
    \node[box] (spr11) at (833,1270) {Agenda-Café};
    \node[leaf] (spr11a) at (893,1263) {Lenka Novotny};
    \node[leaf] (spr11b) at (893,1276) {Monika Esser};
    \node[box] (spr12) at (833,1290) {MINT};
    \node[leaf, right=4pt of spr12] (spr12a) {Achim Kramp};

    \path (spr.east) edge (spr1.west) edge (spr2.west) edge (spr3.west) edge (spr4.west) edge (spr5.west)
      edge (spr6.west) edge (spr7.west) edge (spr8.west) edge (spr9.west) edge (spr10.west)
      edge (spr11.west) edge (spr12.west);
    \path (spr1.east) edge (spr1a.south west) edge (spr1b.south west) edge (spr1c.south west)
      edge (spr1d.south west) edge (spr1e.south west) edge (spr1f.south west) edge (spr1g.south west)
      edge (spr1h.south west);
    \path (spr2.east) edge (spr2a.south west);
    \path (spr3.east) edge (spr3a.west) edge (spr3b.west) edge (spr3c.west) edge (spr3d.west)
      edge (spr3e.west) edge (spr3f.west) edge (spr3g.west);
    \path (spr3a.east) edge (spr3a1.south west);
    \path (spr3b.east) edge (spr3b1.south west);
    \path (spr3c.east) edge (spr3c1.south west);
    \path (spr3d.east) edge (spr3d1.south west) edge (spr3d2.south west) edge (spr3d3.south west);
    \path (spr3e.east) edge (spr3e1.south west);
    \path (spr3f.east) edge (spr3f1.south west);
    \path (spr3g.east) edge (spr3g1.south west);
    \path (spr4.east) edge (spr4a.south west) edge (spr4b.south west);
    \path (spr5.east) edge (spr5a.south west) edge (spr5b.south west);
    \path (spr6.east) edge (spr6a.west) edge (spr6b.west) edge (spr6c.west) edge (spr6d.west)
      edge (spr6e.west) edge (spr6f.west);
    \path (spr6a.east) edge (spr6a1.south west);
    \path (spr6b.east) edge (spr6b1.south west);
    \path (spr6c.east) edge (spr6c1.south west) edge (spr6c2.south west) edge (spr6c3.south west)
      edge (spr6c4.south west);
    \path (spr6d.east) edge (spr6d1.south west);
    \path (spr6e.east) edge (spr6e1.south west) edge (spr6e2.south west);
    \path (spr6f.east) edge (spr6f1.south west) edge (spr6f2.south west);
    \path (spr7.east) edge (spr7a.west) edge (spr7b.west);
    \path (spr7a.east) edge (spr7a1.south west) edge (spr7a2.south west);
    \path (spr7b.east) edge (spr7b1.south west) edge (spr7b2.south west) edge (spr7b3.south west);
    \path (spr8.east) edge (spr8a.south west) edge (spr8b.south west) edge (spr8c.south west)
      edge (spr8d.south west) edge (spr8e.south west);
    \path (spr9.east) edge (spr9a.south west);
    \path (spr10.east) edge (spr10a.south west) edge (spr10b.south west) edge (spr10c.south west);
    \path (spr11.east) edge (spr11a.south west) edge (spr11b.south west);
    \path (spr12.east) edge (spr12a.south west);

    \node[mainbox] (per) at (772,1335) {Personal};
    \node[box] (per1) at (817,1316) {Haustechnik};
    \node[leaf] (per1a) at (875,1303) {Mathias Jansen};
    \node[leaf] (per1b) at (875,1316) {Michael Milewicz};
    \node[leaf] (per1c) at (875,1329) {Fernando Porro};
    \node[box] (per2) at (817,1354) {Sekretariat};
    \node[leaf] (per2a) at (873,1342) {Iris Timmers};
    \node[leaf] (per2b) at (873,1354) {Nicole Sonntag};
    \node[leaf] (per2c) at (873,1367) {Daniela Neuenstein};

    \path (per.east) edge (per1.west) edge (per2.west);
    \path (per1.east) edge (per1a.south west) edge (per1b.south west) edge (per1c.south west);
    \path (per2.east) edge (per2a.south west) edge (per2b.south west) edge (per2c.south west);

    \node[mainbox] (med) at (772,1462) {Medienausstattung};
    \node[box] (med1) at (853,1381) {Medien (OHPs, ...)};
    \node[leaf, right=4pt of med1] (med1a) {Georg Kehren};
    \node[box] (med2) at (853,1406) {Computerräume};
    \node[leaf] (med2a) at (925,1394) {Ralf Klein};
    \node[leaf] (med2b) at (925,1406) {Wolfgang Heinrichs};
    \node[leaf] (med2c) at (925,1420) {Bernd Sadler};
    \node[box] (med3) at (853,1434) {Klassenraumrechner};
    \node[leaf, right=4pt of med3] (med3a) {Herbert Großmann};
    \node[box] (med4) at (853,1459) {Netzwerktechnik};
    \node[leaf] (med4a) at (925,1446) {Harald Reuter};
    \node[leaf] (med4b) at (925,1459) {Herbert Großmann};
    \node[leaf] (med4c) at (925,1472) {Bernd Sadler};
    \node[box] (med5) at (853,1486) {Laptopausleihe};
    \node[leaf, right=4pt of med5] (med5a) {NN};
    \node[box] (med6) at (853,1505) {Schulbücher};
    \node[leaf] (med6a) at (910,1499) {Achim Kramp};
    \node[leaf] (med6b) at (910,1512) {Dirk Hagenkötter};
    \node[box] (med7) at (853,1525) {Lehrerzimmerrechner};
    \node[leaf, right=4pt of med7] (med7a) {NN};
    \node[box] (med8) at (853,1539) {Verstärkeranlage/Lichttechnik};
    \node[leaf, right=4pt of med8] (med8a) {UdoHimmelmann};

    \path (med.east) edge (med1.west) edge (med2.west) edge (med3.west) edge (med4.west)
      edge (med5.west) edge (med6.west) edge (med7.west) edge (med8.west);
    \path (med1.east) edge (med1a.south west);
    \path (med2.east) edge (med2a.south west) edge (med2b.south west) edge (med2c.south west);
    \path (med3.east) edge (med3a.south west);
    \path (med4.east) edge (med4a.south west) edge (med4b.south west) edge (med4c.south west);
    \path (med5.east) edge (med5a.south west);
    \path (med6.east) edge (med6a.south west) edge (med6b.south west);
    \path (med7.east) edge (med7a.south west);
    \path (med8.east) edge (med8a.south west);

    \node[mainbox] (ak) at (772,1639) {Arbeitskreise};
    \node[box] (ak1) at (833,1559) {Jugendhilfe und Schule};
    \node[leaf] (ak1a) at (927,1552) {Monika Esser};
    \node[leaf] (ak1b) at (927,1565) {Heike Gurt};
    \node[box] (ak2) at (833,1578) {Bildungsregion Aachen};
    \node[leaf, right=4pt of ak2] (ak2a) {Ralf Klein};
    \node[box] (ak3) at (833,1659) {Sonderprojekte};
    \node[box] (ak3a) at (902,1598) {Tag für Afrika};
    \node[leaf] (ak3a1) at (963,1592) {NN};
    \node[leaf] (ak3a2) at (963,1605) {Sibel Yilanci};
    \node[box] (ak3b) at (902,1624) {Eirlade};
    \node[leaf] (ak3b1) at (942,1618) {Franziska Perl};
    \node[leaf] (ak3b2) at (942,1630) {Jochen Rantz};
    \node[box] (ak3c) at (902,1644) {Sponsorlauf};
    \node[leaf, right=4pt of ak3c] (ak3c1) {Wilhelm Braunleder};
    \node[box] (ak3d) at (902,1658) {Weihnachten im Schuhkarton};
    \node[leaf, right=5pt of ak3d] (ak3d1) {SV};
    \node[box] (ak3e) at (902,1677) {Kids Projekt};
    \node[leaf] (ak3e1) at (958,1671) {Wilhelm Braunleder};
    \node[leaf] (ak3e2) at (958,1683) {NN};
    \node[box] (ak3f) at (902,1697) {Freiwillig in Alsdorf};
    \node[leaf, right=4pt of ak3f] (ak3f1) {Sibel Yilanci};
    \node[box] (ak3g) at (902,1717) {Bildungsbausteine};
    \node[leaf] (ak3g1) at (977,1710) {Sibel Yilanci};
    \node[leaf] (ak3g2) at (977,1723) {Hilke Buck};

    \path (ak.east) edge (ak1.west) edge (ak2.west) edge (ak3.west);
    \path (ak1.east) edge (ak1a.south west) edge (ak1b.south west);
    \path (ak2.east) edge (ak2a.south west);
    \path (ak3.east) edge (ak3a.west) edge (ak3b.west) edge (ak3c.west) edge (ak3d.west)
      edge (ak3e.west) edge (ak3f.west) edge (ak3g.west);
    \path (ak3a.east) edge (ak3a1.south west) edge (ak3a2.south west);
    \path (ak3b.east) edge (ak3b1.south west) edge (ak3b2.south west);
    \path (ak3c.east) edge (ak3c1.south west);
    \path (ak3d.east) edge (ak3d1.south west);
    \path (ak3e.east) edge (ak3e1.south west) edge (ak3e2.south west);
    \path (ak3f.east) edge (ak3f1.south west);
    \path (ak3g.east) edge (ak3g1.south west) edge (ak3g2.south west);
  \end{scope}

  \begin{scope}[on background layer]
    \path (root.center) edge[mainleft] (ber.east) edge[mainleft] (oef.east) edge[mainleft] (mit.east)
      edge[mainleft] (sic.east) edge[mainleft] (ler.east);
    \path (root.center) edge[mainright] (slt.west) edge[mainright] (pa.west) edge[mainright] (spr.west)
      edge[mainright] (per.west) edge[mainright] (med.west) edge[mainright] (ak.west);
  \end{scope}

\end{tikzpicture}
\end{document}
